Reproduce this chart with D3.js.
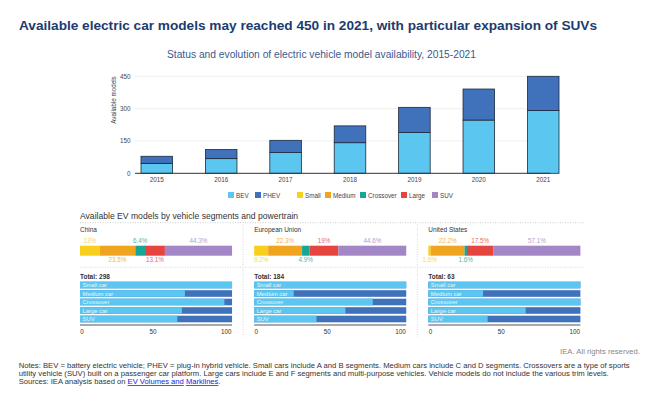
<!DOCTYPE html>
<html>
<head>
<meta charset="utf-8">
<script src="https://cdn.jsdelivr.net/npm/d3@7"></script>
<style>
  body { margin: 0; background: #fff; }
  svg { font-family: "Liberation Sans", Arial, sans-serif; display: block; }
</style>
</head>
<body>
<svg id="chart" width="650" height="399"></svg>
<script>
// top chart data
const years = ['2015', '2016', '2017', '2018', '2019', '2020', '2021'];
const bev = [46, 68, 96, 142, 189, 247, 291];
const phev = [33, 42, 57, 78, 117, 144, 159];
const yTicks = [0, 150, 300, 450];
const legendNames = ['BEV', 'PHEV', 'Small', 'Medium', 'Crossover', 'Large', 'SUV'];

// bottom panels data
const regions = ['China', 'European Union', 'United States'];
const totals = [298, 184, 63];
const segments = ['Small', 'Medium', 'Crossover', 'Large', 'SUV'];
const chinaShare = [13, 23.5, 6.4, 13.1, 44.3];
const euShare = [9.2, 22.3, 4.9, 19, 44.6];
const usShare = [1.6, 22.2, 1.6, 17.5, 57.1];
const carTypes = ['Small car', 'Medium car', 'Crossover', 'Large car', 'SUV'];
const chinaBevPct = [100, 69, 95, 67, 64];
const euBevPct = [100, 26, 78, 60, 41];
const usBevPct = [100, 36, 100, 64, 39];
const pctTicks = [0, 50, 100];

const colors = {
    BEV: '#5bc6f0',
    PHEV: '#4071bb',
    Small: '#f9cf1d',
    Medium: '#efa520',
    Crossover: '#17a596',
    Large: '#e5443f',
    SUV: '#a386c5'
};
// where each share label sits, above or below the bar
const labelSide = [
    ['top', 'bottom', 'top', 'bottom', 'top'],
    ['bottom', 'top', 'bottom', 'top', 'top'],
    ['bottom', 'top', 'bottom', 'top', 'top']
];

const svg = d3.select('#chart');

svg.append('text')
    .attr('x', 19).attr('y', 29.8)
    .attr('font-size', 13.4).attr('font-weight', 'bold')
    .attr('fill', '#1d3b6f')
    .attr('textLength', 578).attr('lengthAdjust', 'spacingAndGlyphs')
    .text('Available electric car models may reached 450 in 2021, with particular expansion of SUVs');

svg.append('text')
    .attr('x', 321.5).attr('y', 58.4)
    .attr('text-anchor', 'middle')
    .attr('font-size', 10).attr('fill', '#3a5a8e')
    .attr('textLength', 309).attr('lengthAdjust', 'spacingAndGlyphs')
    .text('Status and evolution of electric vehicle model availability, 2015-2021');

// ---- top stacked bars ----
const x = d3.scaleBand().domain(years).range([141, 559]).paddingInner(0.51).paddingOuter(0);
const y = d3.scaleLinear().domain([0, 450]).range([173.3, 76.3]);

svg.append('g').selectAll('line')
    .data(yTicks.filter(d => d > 0))
    .join('line')
    .attr('x1', 135).attr('x2', 550)
    .attr('y1', d => y(d)).attr('y2', d => y(d))
    .attr('stroke', '#ebebeb').attr('stroke-width', 0.8);

svg.append('g').selectAll('text')
    .data(yTicks)
    .join('text')
    .attr('x', 130.5).attr('y', d => y(d) + 2.3)
    .attr('text-anchor', 'end')
    .attr('font-size', 6.3).attr('fill', '#444')
    .text(d => d);

svg.append('text')
    .attr('transform', 'translate(115.5,100) rotate(-90)')
    .attr('text-anchor', 'middle')
    .attr('font-size', 6.3).attr('fill', '#444')
    .text('Available models');

const stackData = years.map((yr, i) => ({ year: yr, BEV: bev[i], PHEV: phev[i] }));
const series = d3.stack().keys(['BEV', 'PHEV'])(stackData);

svg.append('g').selectAll('g')
    .data(series)
    .join('g')
    .attr('fill', d => colors[d.key])
    .selectAll('rect')
    .data(d => d)
    .join('rect')
    .attr('x', d => x(d.data.year))
    .attr('width', x.bandwidth())
    .attr('y', d => y(d[1]))
    .attr('height', d => y(d[0]) - y(d[1]))
    .attr('stroke', '#1c2a3c').attr('stroke-width', 0.8);

svg.append('line')
    .attr('x1', 135).attr('x2', 550)
    .attr('y1', y(0)).attr('y2', y(0))
    .attr('stroke', '#333').attr('stroke-width', 1);

svg.append('g').selectAll('text')
    .data(years)
    .join('text')
    .attr('x', d => x(d) + x.bandwidth() / 2)
    .attr('y', 181.5)
    .attr('text-anchor', 'middle')
    .attr('font-size', 6.3).attr('fill', '#444')
    .text(d => d);

// legend
const legendX = [228, 255, 297, 325, 360, 401, 432];
const legend = svg.append('g').selectAll('g')
    .data(legendNames)
    .join('g')
    .attr('transform', (d, i) => `translate(${legendX[i]},192)`);
legend.append('rect').attr('width', 6).attr('height', 6).attr('fill', d => colors[d]);
legend.append('text').attr('x', 8).attr('y', 5.5)
    .attr('font-size', 6.3).attr('fill', '#444').text(d => d);

// ---- bottom panels ----
svg.append('text')
    .attr('x', 80).attr('y', 219.2)
    .attr('font-size', 8.6).attr('fill', '#333')
    .text('Available EV models by vehicle segments and powertrain');

svg.append('line')
    .attr('x1', 80).attr('x2', 585).attr('y1', 222.7).attr('y2', 222.7)
    .attr('stroke', '#bbb').attr('stroke-width', 0.7).attr('stroke-dasharray', '1,1.5');

const px = d3.scaleBand().domain(regions).range([80, 580.4]).paddingInner(0.127).paddingOuter(0);
const rowY = d3.scaleBand().domain(carTypes).range([281.7, 322.3]).paddingInner(0.22).paddingOuter(0);
const shares = [chinaShare, euShare, usShare];
const bevPcts = [chinaBevPct, euBevPct, usBevPct];

// separators between panels
[0, 1].forEach(i => {
    const sx = (px(regions[i]) + px.bandwidth() + px(regions[i + 1])) / 2;
    svg.append('line')
        .attr('x1', sx).attr('x2', sx).attr('y1', 224).attr('y2', 337)
        .attr('stroke', '#ccc').attr('stroke-width', 0.7).attr('stroke-dasharray', '1,1.5');
});

svg.append('line')
    .attr('x1', 80).attr('x2', 585).attr('y1', 267.3).attr('y2', 267.3)
    .attr('stroke', '#ccc').attr('stroke-width', 0.7).attr('stroke-dasharray', '1,1.5');

regions.forEach((region, r) => {
    const x0 = px(region);
    const w = px.bandwidth();
    const g = svg.append('g');

    g.append('text').attr('x', x0).attr('y', 231.8)
        .attr('font-size', 6.5).attr('fill', '#333').text(region);

    // segment share bar
    const sx = d3.scaleLinear().domain([0, d3.sum(shares[r])]).range([x0, x0 + w]);
    const cum = d3.cumsum(shares[r]);
    const segs = segments.map((s, i) => ({ seg: s, v: shares[r][i], a: cum[i] - shares[r][i], b: cum[i], side: labelSide[r][i] }));

    g.selectAll('rect.seg')
        .data(segs)
        .join('rect')
        .attr('class', 'seg')
        .attr('x', d => sx(d.a))
        .attr('width', d => sx(d.b) - sx(d.a))
        .attr('y', 245.7).attr('height', 10)
        .attr('fill', d => colors[d.seg]);

    g.selectAll('text.pct')
        .data(segs)
        .join('text')
        .attr('class', 'pct')
        .attr('x', d => sx((d.a + d.b) / 2))
        .attr('y', d => d.side === 'top' ? 243 : 261.5)
        .attr('text-anchor', 'middle')
        .attr('font-size', 6.3)
        .attr('fill', d => colors[d.seg])
        .attr('opacity', 0.8)
        .text(d => d.v + '%');

    g.append('text').attr('x', x0).attr('y', 279)
        .attr('font-size', 6.5).attr('font-weight', 'bold').attr('fill', '#333')
        .text('Total: ' + totals[r]);

    // BEV / PHEV split per car type
    const hx = d3.scaleLinear().domain([0, 100]).range([x0, x0 + w]);
    const rows = carTypes.map((c, i) => ({ type: c, bev: bevPcts[r][i] }));

    g.selectAll('rect.phev')
        .data(rows)
        .join('rect')
        .attr('class', 'phev')
        .attr('x', hx(0)).attr('width', hx(100) - hx(0))
        .attr('y', d => rowY(d.type)).attr('height', rowY.bandwidth())
        .attr('fill', colors.PHEV);

    g.selectAll('rect.bev')
        .data(rows)
        .join('rect')
        .attr('class', 'bev')
        .attr('x', hx(0)).attr('width', d => hx(d.bev) - hx(0))
        .attr('y', d => rowY(d.type)).attr('height', rowY.bandwidth())
        .attr('fill', colors.BEV);

    g.selectAll('text.row')
        .data(rows)
        .join('text')
        .attr('class', 'row')
        .attr('x', x0 + 2.5)
        .attr('y', d => rowY(d.type) + rowY.bandwidth() / 2 + 2.1)
        .attr('font-size', 5.9).attr('fill', '#fff').attr('opacity', 0.85)
        .text(d => d.type);

    g.append('line')
        .attr('x1', x0).attr('x2', x0 + w).attr('y1', 325).attr('y2', 325)
        .attr('stroke', '#555').attr('stroke-width', 1);

    g.selectAll('text.tick')
        .data(pctTicks)
        .join('text')
        .attr('class', 'tick')
        .attr('x', (d, i) => hx(d) + [0.3, -3, -0.5][i])
        .attr('y', 334)
        .attr('text-anchor', (d, i) => ['start', 'middle', 'end'][i])
        .attr('font-size', 6.3).attr('fill', '#333')
        .text(d => d);
});

// ---- footer ----
svg.append('text')
    .attr('x', 640).attr('y', 353.7)
    .attr('text-anchor', 'end')
    .attr('font-size', 7.7).attr('fill', '#888')
    .text('IEA. All rights reserved.');

const notes = [
    'Notes: BEV = battery electric vehicle; PHEV = plug-in hybrid vehicle. Small cars include A and B segments. Medium cars include C and D segments. Crossovers are a type of sports',
    'utility vehicle (SUV) built on a passenger car platform. Large cars include E and F segments and multi-purpose vehicles. Vehicle models do not include the various trim levels.'
];
const noteLen = [611, 590];
svg.append('g').selectAll('text')
    .data(notes)
    .join('text')
    .attr('x', 18.7).attr('y', (d, i) => 367.8 + i * 8.2)
    .attr('font-size', 7.6).attr('fill', '#333')
    .attr('textLength', (d, i) => noteLen[i]).attr('lengthAdjust', 'spacingAndGlyphs')
    .text(d => d);

const src = svg.append('text')
    .attr('x', 18.7).attr('y', 384.1)
    .attr('font-size', 7.6).attr('fill', '#333');
src.append('tspan').text('Sources: IEA analysis based on ');
src.append('tspan').attr('fill', '#1a1ad6').attr('text-decoration', 'underline').text('EV Volumes and');
src.append('tspan').text(' ');
src.append('tspan').attr('fill', '#1a1ad6').attr('text-decoration', 'underline').text('Marklines');
src.append('tspan').text('.');
</script>
</body>
</html>
